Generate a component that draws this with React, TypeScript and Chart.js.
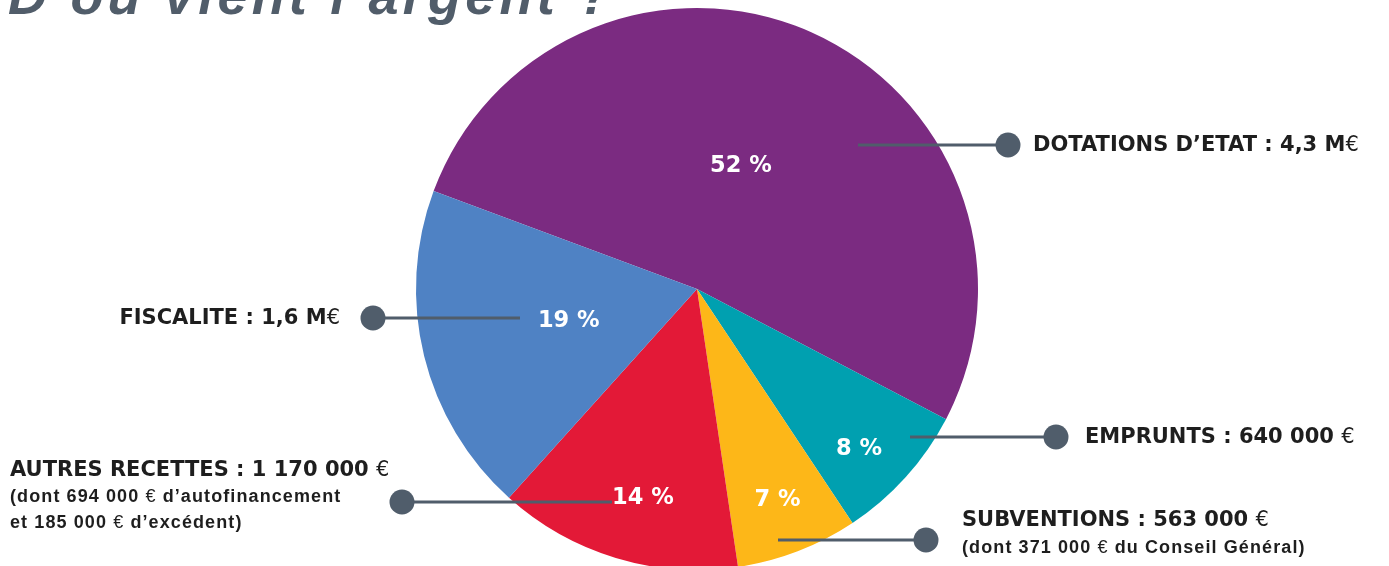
import React, { useEffect, useRef } from "react";
import { Chart, registerables } from "chart.js";

Chart.register(...registerables);

const categories = ["DOTATIONS D’ETAT", "EMPRUNTS", "SUBVENTIONS", "AUTRES RECETTES", "FISCALITE"];
const percentages = [52, 8, 7, 14, 19];
const colors = ["#7B2B81", "#00A0B0", "#FDB718", "#E31937", "#4F82C4"];
const mainLabels = [
  "DOTATIONS D’ETAT : 4,3 M€",
  "EMPRUNTS : 640 000 €",
  "SUBVENTIONS : 563 000 €",
  "AUTRES RECETTES : 1 170 000 €",
  "FISCALITE : 1,6 M€",
];
const subLabels: string[][] = [
  [],
  [],
  ["(dont 371 000 € du Conseil Général)"],
  ["(dont 694 000 € d’autofinancement", "et 185 000 € d’excédent)"],
  [],
];
const titleText = "D’où vient l’argent ?";

// layout: percentage label position inside each slice (fraction along arc, fraction of radius)
const pctAngleFrac = [0.476, 0.587, 0.5, 0.456, 0.5];
const pctRadius = [0.468, 0.808, 0.8, 0.765, 0.47];
type Leader = { x1: number; x2: number; dy: number; tx: number; align: "left" | "right"; ty: number[] };
const leaders: Leader[] = [
  { x1: 161, x2: 311, dy: -144, tx: 1033, align: "left", ty: [1] },
  { x1: 213, x2: 359, dy: 148, tx: 1085, align: "left", ty: [1] },
  { x1: 81, x2: 229, dy: 251, tx: 962, align: "left", ty: [-19, 8] },
  { x1: -85, x2: -295, dy: 213, tx: 10, align: "left", ty: [-31, -5, 21] },
  { x1: -177, x2: -324, dy: 29, tx: 340, align: "right", ty: [1] },
];

// draws text where "€" is in a lighter weight
function drawRich(ctx: any, text: string, x: number, y: number, align: "left" | "right", boldFont: string, lightFont: string, spacing: string) {
  const parts = text.split(/(€)/).filter((p) => p.length > 0);
  ctx.letterSpacing = spacing;
  ctx.textAlign = "left";
  const widths = parts.map((p) => {
    ctx.font = p === "€" ? lightFont : boldFont;
    return ctx.measureText(p).width;
  });
  const total = widths.reduce((a: number, b: number) => a + b, 0);
  let cx = align === "left" ? x : x - total;
  parts.forEach((p, i) => {
    ctx.font = p === "€" ? lightFont : boldFont;
    ctx.fillText(p, cx, y);
    cx += widths[i];
  });
}

const overlayPlugin = {
  id: "overlay",
  afterDraw(chart: any) {
    const ctx = chart.ctx as any;
    const meta = chart.getDatasetMeta(0);
    const a0 = meta.data[0] as any;
    const cx = a0.x;
    const cy = a0.y;
    ctx.save();
    // title
    ctx.fillStyle = "#515D6A";
    ctx.font = "italic bold 54px 'Liberation Sans', Arial, sans-serif";
    ctx.letterSpacing = "4.2px";
    ctx.textAlign = "left";
    ctx.textBaseline = "alphabetic";
    ctx.fillText(titleText, 8, 14);

    // percent labels
    ctx.fillStyle = "#FFFFFF";
    ctx.font = "bold 22.5px 'DejaVu Sans', sans-serif";
    ctx.letterSpacing = "0px";
    ctx.textAlign = "center";
    ctx.textBaseline = "middle";
    meta.data.forEach((arc: any, i: number) => {
      const ang = arc.startAngle + (arc.endAngle - arc.startAngle) * pctAngleFrac[i];
      const rr = arc.outerRadius * pctRadius[i];
      ctx.fillText(percentages[i] + " %", cx + Math.cos(ang) * rr, cy + Math.sin(ang) * rr + 1);
    });

    // leaders
    leaders.forEach((l, i) => {
      const y = cy + l.dy;
      ctx.strokeStyle = "#505D6B";
      ctx.lineWidth = 3;
      ctx.beginPath();
      ctx.moveTo(cx + l.x1, y);
      ctx.lineTo(cx + l.x2, y);
      ctx.stroke();
      ctx.fillStyle = "#505D6B";
      ctx.beginPath();
      ctx.arc(cx + l.x2, y, 12.5, 0, Math.PI * 2);
      ctx.fill();

      ctx.fillStyle = "#1E1E1E";
      ctx.textBaseline = "middle";
      drawRich(ctx, mainLabels[i], l.tx, y + l.ty[0], l.align,
        "bold 21px 'DejaVu Sans', sans-serif",
        "21px 'DejaVu Sans', sans-serif", "0px");
      subLabels[i].forEach((s, k) => {
        drawRich(ctx, s, l.tx, y + l.ty[k + 1], l.align,
          "bold 18px 'Liberation Sans', Arial, sans-serif",
          "18px 'Liberation Sans', Arial, sans-serif", "1.1px");
      });
    });
    ctx.restore();
  },
};

export default function App() {
  const ref = useRef<HTMLCanvasElement | null>(null);
  useEffect(() => {
    if (!ref.current) return;
    const chart = new Chart(ref.current, {
      type: "pie",
      data: {
        labels: categories,
        datasets: [
          {
            data: percentages,
            backgroundColor: colors,
            borderWidth: 0,
          },
        ],
      },
      options: {
        animation: false,
        responsive: false,
        rotation: 290.4,
        radius: 281,
        layout: { padding: { left: 416, right: 411, top: 12, bottom: 0 } },
        plugins: {
          legend: { display: false },
          tooltip: { enabled: false },
          title: { display: false },
        },
      },
      plugins: [overlayPlugin],
    });
    return () => chart.destroy();
  }, []);
  return (
    <div style={{ position: "fixed", left: 0, top: 0, width: 1389, height: 566, background: "#fff" }}>
      <canvas ref={ref} width={1389} height={566} style={{ display: "block" }} />
    </div>
  );
}
